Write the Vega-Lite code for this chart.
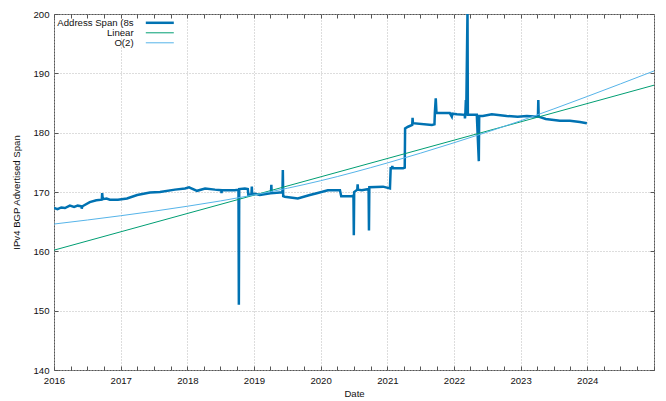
{
  "$schema": "https://vega.github.io/schema/vega-lite/v6.json",
  "width": 600,
  "height": 356,
  "autosize": {"type": "none"},
  "padding": {"left": 54, "top": 14, "right": 12, "bottom": 31},
  "config": {
    "font": "Liberation Sans",
    "view": {"stroke": "#555555", "strokeWidth": 1},
    "axis": {
      "domain": false,
      "tickColor": "#555555",
      "tickWidth": 1,
      "labelFont": "Liberation Sans",
      "labelFontSize": 9.6,
      "labelColor": "#111111",
      "titleFont": "Liberation Sans",
      "titleFontSize": 9.6,
      "titleFontWeight": "normal",
      "titleColor": "#111111",
      "gridColor": "#bbbbbb",
      "gridDash": [1, 2],
      "gridWidth": 1
    }
  },
  "datasets": {
    "span": [
      {"date": "2016-01-01", "value": 167.3, "series": "Address Span (8s"},
      {"date": "2016-01-20", "value": 167.1, "series": "Address Span (8s"},
      {"date": "2016-02-10", "value": 167.4, "series": "Address Span (8s"},
      {"date": "2016-03-01", "value": 167.3, "series": "Address Span (8s"},
      {"date": "2016-03-28", "value": 167.7, "series": "Address Span (8s"},
      {"date": "2016-04-20", "value": 167.5, "series": "Address Span (8s"},
      {"date": "2016-05-10", "value": 167.7, "series": "Address Span (8s"},
      {"date": "2016-05-30", "value": 167.6, "series": "Address Span (8s"},
      {"date": "2016-06-01", "value": 167.2, "series": "Address Span (8s"},
      {"date": "2016-06-05", "value": 167.6, "series": "Address Span (8s"},
      {"date": "2016-07-15", "value": 168.3, "series": "Address Span (8s"},
      {"date": "2016-08-20", "value": 168.6, "series": "Address Span (8s"},
      {"date": "2016-09-19", "value": 168.7, "series": "Address Span (8s"},
      {"date": "2016-09-21", "value": 169.8, "series": "Address Span (8s"},
      {"date": "2016-09-24", "value": 168.8, "series": "Address Span (8s"},
      {"date": "2016-10-15", "value": 168.9, "series": "Address Span (8s"},
      {"date": "2016-11-02", "value": 168.7, "series": "Address Span (8s"},
      {"date": "2016-12-16", "value": 168.7, "series": "Address Span (8s"},
      {"date": "2017-02-04", "value": 168.9, "series": "Address Span (8s"},
      {"date": "2017-04-01", "value": 169.5, "series": "Address Span (8s"},
      {"date": "2017-06-10", "value": 169.9, "series": "Address Span (8s"},
      {"date": "2017-08-04", "value": 170.0, "series": "Address Span (8s"},
      {"date": "2017-10-25", "value": 170.4, "series": "Address Span (8s"},
      {"date": "2017-12-19", "value": 170.6, "series": "Address Span (8s"},
      {"date": "2018-01-10", "value": 170.8, "series": "Address Span (8s"},
      {"date": "2018-02-23", "value": 170.2, "series": "Address Span (8s"},
      {"date": "2018-04-08", "value": 170.6, "series": "Address Span (8s"},
      {"date": "2018-06-01", "value": 170.4, "series": "Address Span (8s"},
      {"date": "2018-07-05", "value": 170.3, "series": "Address Span (8s"},
      {"date": "2018-07-07", "value": 169.8, "series": "Address Span (8s"},
      {"date": "2018-07-09", "value": 170.3, "series": "Address Span (8s"},
      {"date": "2018-09-18", "value": 170.3, "series": "Address Span (8s"},
      {"date": "2018-10-08", "value": 170.4, "series": "Address Span (8s"},
      {"date": "2018-10-10", "value": 151.0, "series": "Address Span (8s"},
      {"date": "2018-10-12", "value": 170.5, "series": "Address Span (8s"},
      {"date": "2018-11-12", "value": 170.6, "series": "Address Span (8s"},
      {"date": "2018-11-28", "value": 170.5, "series": "Address Span (8s"},
      {"date": "2018-12-01", "value": 169.5, "series": "Address Span (8s"},
      {"date": "2018-12-18", "value": 169.6, "series": "Address Span (8s"},
      {"date": "2018-12-20", "value": 170.9, "series": "Address Span (8s"},
      {"date": "2018-12-22", "value": 169.6, "series": "Address Span (8s"},
      {"date": "2019-01-06", "value": 169.7, "series": "Address Span (8s"},
      {"date": "2019-02-02", "value": 169.5, "series": "Address Span (8s"},
      {"date": "2019-04-04", "value": 169.8, "series": "Address Span (8s"},
      {"date": "2019-04-06", "value": 171.2, "series": "Address Span (8s"},
      {"date": "2019-04-08", "value": 169.8, "series": "Address Span (8s"},
      {"date": "2019-05-23", "value": 169.9, "series": "Address Span (8s"},
      {"date": "2019-06-06", "value": 169.9, "series": "Address Span (8s"},
      {"date": "2019-06-08", "value": 173.7, "series": "Address Span (8s"},
      {"date": "2019-06-10", "value": 169.3, "series": "Address Span (8s"},
      {"date": "2019-06-19", "value": 169.2, "series": "Address Span (8s"},
      {"date": "2019-08-29", "value": 168.9, "series": "Address Span (8s"},
      {"date": "2019-11-03", "value": 169.5, "series": "Address Span (8s"},
      {"date": "2019-12-11", "value": 169.8, "series": "Address Span (8s"},
      {"date": "2020-02-10", "value": 170.3, "series": "Address Span (8s"},
      {"date": "2020-04-16", "value": 170.3, "series": "Address Span (8s"},
      {"date": "2020-04-23", "value": 169.3, "series": "Address Span (8s"},
      {"date": "2020-06-20", "value": 169.3, "series": "Address Span (8s"},
      {"date": "2020-06-29", "value": 169.4, "series": "Address Span (8s"},
      {"date": "2020-07-01", "value": 162.7, "series": "Address Span (8s"},
      {"date": "2020-07-03", "value": 170.0, "series": "Address Span (8s"},
      {"date": "2020-07-20", "value": 170.4, "series": "Address Span (8s"},
      {"date": "2020-07-22", "value": 171.3, "series": "Address Span (8s"},
      {"date": "2020-07-24", "value": 170.4, "series": "Address Span (8s"},
      {"date": "2020-08-14", "value": 170.3, "series": "Address Span (8s"},
      {"date": "2020-09-20", "value": 170.5, "series": "Address Span (8s"},
      {"date": "2020-09-22", "value": 163.5, "series": "Address Span (8s"},
      {"date": "2020-09-24", "value": 170.8, "series": "Address Span (8s"},
      {"date": "2020-12-08", "value": 170.9, "series": "Address Span (8s"},
      {"date": "2021-01-15", "value": 170.6, "series": "Address Span (8s"},
      {"date": "2021-01-19", "value": 174.0, "series": "Address Span (8s"},
      {"date": "2021-01-26", "value": 174.0, "series": "Address Span (8s"},
      {"date": "2021-01-28", "value": 174.4, "series": "Address Span (8s"},
      {"date": "2021-01-30", "value": 174.0, "series": "Address Span (8s"},
      {"date": "2021-03-28", "value": 174.0, "series": "Address Span (8s"},
      {"date": "2021-04-06", "value": 174.1, "series": "Address Span (8s"},
      {"date": "2021-04-08", "value": 180.7, "series": "Address Span (8s"},
      {"date": "2021-04-24", "value": 181.0, "series": "Address Span (8s"},
      {"date": "2021-05-17", "value": 181.3, "series": "Address Span (8s"},
      {"date": "2021-05-19", "value": 182.5, "series": "Address Span (8s"},
      {"date": "2021-05-21", "value": 181.6, "series": "Address Span (8s"},
      {"date": "2021-09-02", "value": 181.3, "series": "Address Span (8s"},
      {"date": "2021-09-16", "value": 181.4, "series": "Address Span (8s"},
      {"date": "2021-09-18", "value": 183.3, "series": "Address Span (8s"},
      {"date": "2021-09-23", "value": 185.8, "series": "Address Span (8s"},
      {"date": "2021-09-27", "value": 183.3, "series": "Address Span (8s"},
      {"date": "2021-12-09", "value": 183.3, "series": "Address Span (8s"},
      {"date": "2021-12-20", "value": 182.7, "series": "Address Span (8s"},
      {"date": "2021-12-23", "value": 183.2, "series": "Address Span (8s"},
      {"date": "2022-01-17", "value": 183.1, "series": "Address Span (8s"},
      {"date": "2022-03-01", "value": 183.0, "series": "Address Span (8s"},
      {"date": "2022-03-02", "value": 182.4, "series": "Address Span (8s"},
      {"date": "2022-03-04", "value": 183.0, "series": "Address Span (8s"},
      {"date": "2022-03-07", "value": 185.5, "series": "Address Span (8s"},
      {"date": "2022-03-09", "value": 183.0, "series": "Address Span (8s"},
      {"date": "2022-03-16", "value": 200.5, "series": "Address Span (8s"},
      {"date": "2022-03-18", "value": 183.0, "series": "Address Span (8s"},
      {"date": "2022-03-29", "value": 183.0, "series": "Address Span (8s"},
      {"date": "2022-05-06", "value": 183.0, "series": "Address Span (8s"},
      {"date": "2022-05-17", "value": 175.2, "series": "Address Span (8s"},
      {"date": "2022-05-19", "value": 182.8, "series": "Address Span (8s"},
      {"date": "2022-06-08", "value": 182.8, "series": "Address Span (8s"},
      {"date": "2022-07-27", "value": 183.1, "series": "Address Span (8s"},
      {"date": "2022-10-17", "value": 182.8, "series": "Address Span (8s"},
      {"date": "2022-12-16", "value": 182.7, "series": "Address Span (8s"},
      {"date": "2023-02-04", "value": 182.8, "series": "Address Span (8s"},
      {"date": "2023-04-06", "value": 182.7, "series": "Address Span (8s"},
      {"date": "2023-04-08", "value": 185.5, "series": "Address Span (8s"},
      {"date": "2023-04-10", "value": 182.7, "series": "Address Span (8s"},
      {"date": "2023-05-19", "value": 182.3, "series": "Address Span (8s"},
      {"date": "2023-08-04", "value": 182.0, "series": "Address Span (8s"},
      {"date": "2023-09-28", "value": 182.0, "series": "Address Span (8s"},
      {"date": "2023-11-22", "value": 181.8, "series": "Address Span (8s"},
      {"date": "2023-12-30", "value": 181.6, "series": "Address Span (8s"}
    ],
    "fits": [
      {"date": "2016-01-01", "value": 160.2, "series": "Linear"},
      {"date": "2025-01-01", "value": 188.0, "series": "Linear"},
      {"date": "2016-01-01", "value": 164.6, "series": "O(2)"},
      {"date": "2017-01-01", "value": 166.0, "series": "O(2)"},
      {"date": "2018-01-01", "value": 167.6, "series": "O(2)"},
      {"date": "2019-01-01", "value": 169.5, "series": "O(2)"},
      {"date": "2020-01-01", "value": 171.9, "series": "O(2)"},
      {"date": "2021-01-01", "value": 174.9, "series": "O(2)"},
      {"date": "2022-01-01", "value": 178.3, "series": "O(2)"},
      {"date": "2023-01-01", "value": 182.0, "series": "O(2)"},
      {"date": "2024-01-01", "value": 186.1, "series": "O(2)"},
      {"date": "2025-01-01", "value": 190.4, "series": "O(2)"}
    ]
  },
  "layer": [
    {
      "data": {"name": "span"},
      "mark": {"type": "line", "clip": true, "strokeWidth": 2.5},
      "encoding": {
        "x": {
          "field": "date", "type": "temporal",
          "scale": {"domain": [{"year": 2016, "month": 1, "date": 1}, {"year": 2025, "month": 1, "date": 1}]},
          "axis": {
            "orient": "bottom",
            "title": "Date",
            "titlePadding": 4,
            "values": [
              {"year": 2016, "month": 1}, {"year": 2016, "month": 4}, {"year": 2016, "month": 7}, {"year": 2016, "month": 10},
              {"year": 2017, "month": 1}, {"year": 2017, "month": 4}, {"year": 2017, "month": 7}, {"year": 2017, "month": 10},
              {"year": 2018, "month": 1}, {"year": 2018, "month": 4}, {"year": 2018, "month": 7}, {"year": 2018, "month": 10},
              {"year": 2019, "month": 1}, {"year": 2019, "month": 4}, {"year": 2019, "month": 7}, {"year": 2019, "month": 10},
              {"year": 2020, "month": 1}, {"year": 2020, "month": 4}, {"year": 2020, "month": 7}, {"year": 2020, "month": 10},
              {"year": 2021, "month": 1}, {"year": 2021, "month": 4}, {"year": 2021, "month": 7}, {"year": 2021, "month": 10},
              {"year": 2022, "month": 1}, {"year": 2022, "month": 4}, {"year": 2022, "month": 7}, {"year": 2022, "month": 10},
              {"year": 2023, "month": 1}, {"year": 2023, "month": 4}, {"year": 2023, "month": 7}, {"year": 2023, "month": 10},
              {"year": 2024, "month": 1}, {"year": 2024, "month": 4}, {"year": 2024, "month": 7}, {"year": 2024, "month": 10},
              {"year": 2025, "month": 1}
            ],
            "labelExpr": "month(datum.value) === 0 && year(datum.value) < 2025 ? timeFormat(datum.value, '%Y') : ''",
            "labelPadding": 9,
            "labelFlush": false,
            "labelOverlap": false,
            "tickSize": -4,
            "grid": true,
            "gridOpacity": {"condition": {"test": "month(datum.value) === 0", "value": 1}, "value": 0}
          }
        },
        "y": {
          "field": "value", "type": "quantitative",
          "scale": {"domain": [140, 200], "nice": false, "zero": false},
          "axis": {
            "orient": "left",
            "title": "IPv4 BGP Advertised Span",
            "values": [140, 150, 160, 170, 180, 190, 200],
            "tickSize": -4,
            "labelPadding": 9,
            "titlePadding": 11,
            "grid": true
          }
        },
        "color": {
          "field": "series", "type": "nominal",
          "scale": {"domain": ["Address Span (8s", "Linear", "O(2)"], "range": ["#0072b2", "#009e73", "#56b4e9"]},
          "legend": {
            "title": null,
            "orient": "none",
            "legendX": 101,
            "legendY": 4,
            "symbolType": "stroke",
            "symbolSize": 784,
            "rowPadding": -30.6,
            "labelAlign": "right",
            "labelOffset": -31,
            "labelFont": "Liberation Sans",
            "labelFontSize": 9.6,
            "labelColor": "#111111",
            "padding": 0,
            "encode": {
              "symbols": {
                "update": {
                  "strokeWidth": {"signal": "datum.value === 'Address Span (8s' ? 2.5 : 1"}
                }
              }
            }
          }
        }
      }
    },
    {
      "data": {"name": "fits"},
      "mark": {"type": "line", "clip": true, "interpolate": "monotone", "strokeWidth": 1},
      "encoding": {
        "x": {
          "field": "date", "type": "temporal",
          "axis": {
            "orient": "top",
            "title": null,
            "labels": false,
            "grid": false,
            "tickSize": -4,
            "values": [
              {"year": 2016, "month": 1}, {"year": 2016, "month": 4}, {"year": 2016, "month": 7}, {"year": 2016, "month": 10},
              {"year": 2017, "month": 1}, {"year": 2017, "month": 4}, {"year": 2017, "month": 7}, {"year": 2017, "month": 10},
              {"year": 2018, "month": 1}, {"year": 2018, "month": 4}, {"year": 2018, "month": 7}, {"year": 2018, "month": 10},
              {"year": 2019, "month": 1}, {"year": 2019, "month": 4}, {"year": 2019, "month": 7}, {"year": 2019, "month": 10},
              {"year": 2020, "month": 1}, {"year": 2020, "month": 4}, {"year": 2020, "month": 7}, {"year": 2020, "month": 10},
              {"year": 2021, "month": 1}, {"year": 2021, "month": 4}, {"year": 2021, "month": 7}, {"year": 2021, "month": 10},
              {"year": 2022, "month": 1}, {"year": 2022, "month": 4}, {"year": 2022, "month": 7}, {"year": 2022, "month": 10},
              {"year": 2023, "month": 1}, {"year": 2023, "month": 4}, {"year": 2023, "month": 7}, {"year": 2023, "month": 10},
              {"year": 2024, "month": 1}, {"year": 2024, "month": 4}, {"year": 2024, "month": 7}, {"year": 2024, "month": 10}
            ]
          }
        },
        "y": {
          "field": "value", "type": "quantitative",
          "axis": {
            "orient": "right",
            "title": null,
            "labels": false,
            "grid": false,
            "tickSize": -4,
            "values": [140, 150, 160, 170, 180, 190, 200]
          }
        },
        "color": {"field": "series", "type": "nominal"}
      }
    }
  ],
  "resolve": {"axis": {"x": "independent", "y": "independent"}}
}
